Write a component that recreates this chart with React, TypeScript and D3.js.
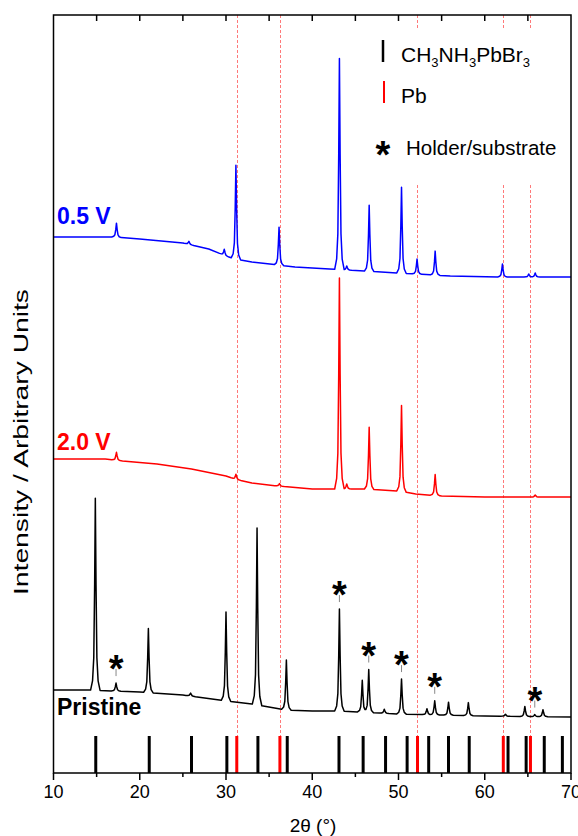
import React from "react";
import * as d3 from "d3";

// ---------- data (2θ in degrees, intensity in arbitrary units) ----------
const xMajorTicks = [10, 20, 30, 40, 50, 60, 70];
const xMinorTicks = [15, 25, 35, 45, 55, 65];

// Pristine (black)
const pristineBaseline: [number, number][] = [
  [10, 83], [14, 83], [20, 81], [25, 78], [30, 72], [33, 69], [37, 63],
  [40, 62], [43, 62], [50, 59], [55, 58], [60, 57], [70, 56],
];
const pristinePeaks: [number, number][] = [
  [14.85, 192], [17.25, 8], [21.0, 64], [25.9, 3], [30.0, 89], [33.6, 177],
  [37.0, 50], [43.15, 102], [45.8, 32], [46.55, 43], [48.35, 4], [50.35, 35],
  [53.3, 6], [54.2, 14], [55.8, 13], [58.1, 13], [62.4, 2], [64.65, 10],
  [65.8, 2], [66.75, 7],
];

// 2.0 V (red)
const v20Baseline: [number, number][] = [
  [10, 314], [16, 314], [18, 312], [22, 309], [26, 304], [30, 297], [31, 294],
  [33, 290], [36, 287], [40, 284], [42.5, 284], [46, 284], [50, 282],
  [52, 279], [55, 277], [60, 276], [70, 276],
];
const v20Peaks: [number, number][] = [
  [17.3, 8], [31.15, 5], [36.2, 2.5], [43.15, 211], [44.0, 5], [46.6, 62],
  [50.35, 86], [54.25, 21], [65.85, 2],
];

// 0.5 V (blue)
const v05Baseline: [number, number][] = [
  [10, 536], [17, 536], [20, 534], [25, 530], [28, 524], [30, 517], [31, 514],
  [33, 511], [36, 508], [38, 506], [42, 504], [48, 501], [52, 499], [56, 497],
  [62, 496], [70, 496],
];
const v05Peaks: [number, number][] = [
  [17.3, 14], [25.7, 3], [29.8, 6], [31.15, 94], [36.15, 38], [43.15, 211],
  [44.0, 4], [46.6, 66], [50.35, 86], [52.15, 15], [54.25, 24], [62.05, 13],
  [65.1, 3], [65.85, 4],
];

// reference patterns
const mapbbr3Ref = [14.9, 21.1, 26.0, 30.1, 33.7, 37.1, 43.1, 45.9, 48.5, 51.0,
  53.5, 55.8, 58.2, 62.7, 64.8, 66.9, 69.0];
const pbRef = [31.25, 36.25, 52.2, 62.15, 65.3];
const holderPeaks = [17.25, 43.15, 46.55, 50.35, 54.2, 65.8];

// ---------- layout ----------
const W = 578, H = 836;
const L = 53.5, R = 571, T = 15, B = 773;
const FONT = "'Liberation Sans', Arial, Helvetica, sans-serif";

const x = d3.scaleLinear().domain([10, 70]).range([L, R]);
const y = d3.scaleLinear().domain([0, 758]).range([B, T]);

// peak profile shape (offset in degrees, fraction of height)
const profOff = [-0.55, -0.32, -0.18, -0.08, 0, 0.08, 0.18, 0.32, 0.55];
const profFrac = [0, 0.05, 0.17, 0.55, 1, 0.55, 0.17, 0.05, 0];
const prof = d3.scaleLinear().domain(profOff).range(profFrac).clamp(true);

function buildPattern(base: [number, number][], peaks: [number, number][]) {
  const baseFn = d3.scaleLinear().domain(base.map(d => d[0])).range(base.map(d => d[1]));
  const xs = new Set<number>(base.map(d => d[0]));
  peaks.forEach(([p]) => profOff.forEach(o => xs.add(+(p + o).toFixed(3))));
  const sorted = Array.from(xs).filter(t => t >= 10 && t <= 70).sort((a, b) => a - b);
  return sorted.map(t => [t, baseFn(t) + peaks.reduce((s, [p, h]) => s + h * prof(t - p), 0)] as [number, number]);
}

const pristine = buildPattern(pristineBaseline, pristinePeaks);
const v20 = buildPattern(v20Baseline, v20Peaks);
const v05 = buildPattern(v05Baseline, v05Peaks);

const line = d3.line<[number, number]>().x(d => x(d[0])).y(d => y(d[1])).curve(d3.curveLinear);

const pristineBaseFn = d3.scaleLinear().domain(pristineBaseline.map(d => d[0])).range(pristineBaseline.map(d => d[1]));
function pristineTop(p: number) {
  return pristineBaseFn(p) + pristinePeaks.reduce((s, [c, h]) => s + h * prof(p - c), 0);
}

export default function App() {
  const barTop = 736;
  return (
    <svg width={W} height={H} style={{ position: "absolute", left: 0, top: 0, background: "#fff" }}
      fontFamily={FONT}>
      <rect x={0} y={0} width={W} height={H} fill="#fff" />
      {/* dashed Pb guide lines */}
      {pbRef.map(p => {
        const px = Math.round(x(p)) + 0.5;
        return (
          <line key={"d" + p} x1={px} x2={px} y1={T} y2={B} stroke="#ff4d4d"
            strokeWidth={1} strokeDasharray="3,2" opacity={0.75} />
        );
      })}
      {/* patterns */}
      <path d={line(v05) || ""} fill="none" stroke="#0000ff" strokeWidth={1.5} strokeLinejoin="round" />
      <path d={line(v20) || ""} fill="none" stroke="#ff0000" strokeWidth={1.5} strokeLinejoin="round" />
      <path d={line(pristine) || ""} fill="none" stroke="#000" strokeWidth={1.5} strokeLinejoin="round" />

      {/* holder / substrate markers */}
      {holderPeaks.map(p => {
        const top = y(pristineTop(p));
        return (
          <g key={"h" + p}>
            <line x1={x(p)} x2={x(p)} y1={top - 14} y2={top - 7} stroke="#888" strokeWidth={1} />
            <text x={x(p)} y={top - 1} fontSize={38} fontWeight="bold" textAnchor="middle">*</text>
          </g>
        );
      })}

      {/* legend */}
      <rect x={372} y={29} width={R - 372 - 1} height={154} fill="#fff" />
      <line x1={383} x2={383} y1={40} y2={62} stroke="#000" strokeWidth={2.5} />
      <text x={401} y={62} fontSize={21}>
        CH<tspan fontSize={13} dy={5}>3</tspan><tspan dy={-5}>NH</tspan>
        <tspan fontSize={13} dy={5}>3</tspan><tspan dy={-5}>PbBr</tspan>
        <tspan fontSize={13} dy={5}>3</tspan>
      </text>
      <line x1={384} x2={384} y1={81} y2={103} stroke="#ff0000" strokeWidth={2} />
      <text x={401} y={103} fontSize={21}>Pb</text>
      <text x={383} y={168} fontSize={38} fontWeight="bold" textAnchor="middle">*</text>
      <text x={406} y={155} fontSize={20.5}>Holder/substrate</text>

      {/* series labels */}
      <text x={57} y={224} fontSize={23} fontWeight="bold" fill="#0000ff">0.5 V</text>
      <text x={57} y={450} fontSize={23} fontWeight="bold" fill="#ff0000">2.0 V</text>
      <text x={57} y={715} fontSize={23} fontWeight="bold" fill="#000">Pristine</text>

      {/* reference bars */}
      {mapbbr3Ref.map(p => (
        <line key={"b" + p} x1={x(p)} x2={x(p)} y1={barTop} y2={B} stroke="#000" strokeWidth={3} />
      ))}
      {pbRef.map(p => (
        <line key={"r" + p} x1={x(p)} x2={x(p)} y1={barTop} y2={B} stroke="#ff0000" strokeWidth={3} />
      ))}

      {/* frame */}
      <rect x={L} y={T} width={R - L} height={B - T} fill="none" stroke="#000" strokeWidth={1.5} />
      {/* top ticks (inward) */}
      {[...xMajorTicks, ...xMinorTicks].filter(t => t > 10 && t < 70).map(t => (
        <line key={"tt" + t} x1={x(t)} x2={x(t)} y1={T} y2={T + 6} stroke="#000" strokeWidth={1.5} />
      ))}
      {/* bottom ticks (outward) */}
      {xMajorTicks.map(t => (
        <line key={"bm" + t} x1={x(t)} x2={x(t)} y1={B} y2={B + 7} stroke="#000" strokeWidth={1.5} />
      ))}
      {xMinorTicks.map(t => (
        <line key={"bn" + t} x1={x(t)} x2={x(t)} y1={B} y2={B + 4} stroke="#000" strokeWidth={1.5} />
      ))}
      {xMajorTicks.map(t => (
        <text key={"bl" + t} x={x(t)} y={798} fontSize={18} textAnchor="middle">{t}</text>
      ))}
      <text x={313} y={832} fontSize={19} textAnchor="middle">2θ (°)</text>
      <text transform="translate(28,442) rotate(-90)" fontSize={20} textAnchor="middle"
        textLength={306} lengthAdjust="spacingAndGlyphs">Intensity / Arbitrary Units</text>
    </svg>
  );
}
